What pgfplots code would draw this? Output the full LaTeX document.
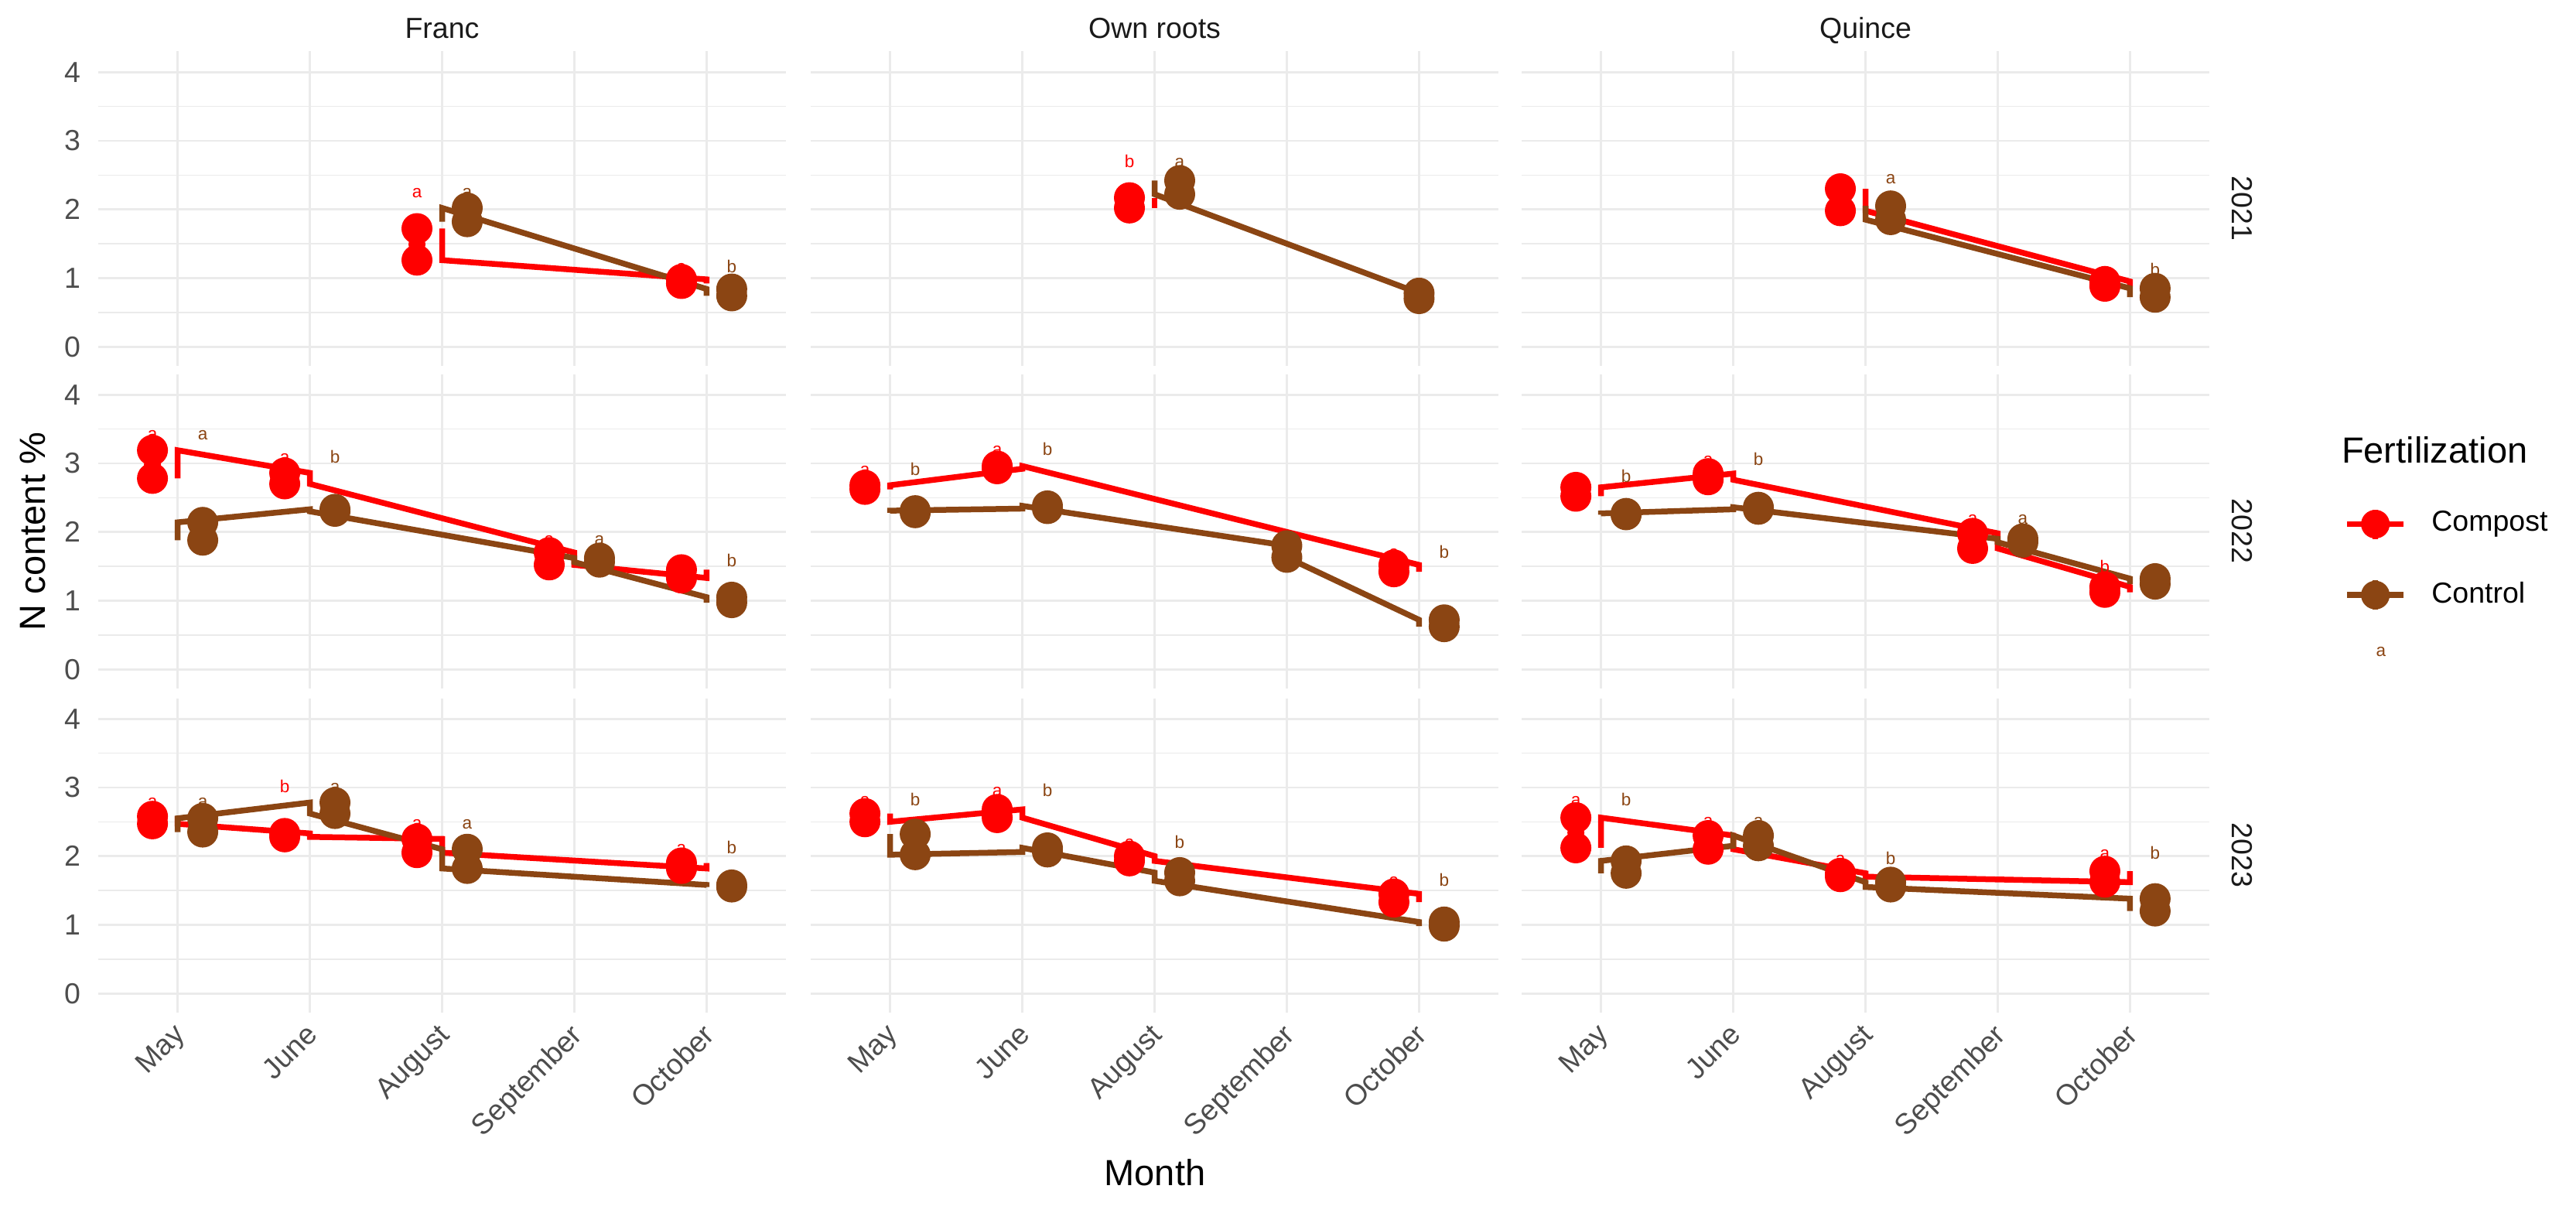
\documentclass[border=0pt]{standalone}
\usepackage{fontspec}
\setmainfont{Liberation Sans}
\usepackage{pgfplots}
\usepackage{pgfplotstable}
\pgfplotsset{compat=1.18}

\definecolor{compost}{HTML}{FF0000}
\definecolor{control}{HTML}{8B4513}
\definecolor{gridmaj}{HTML}{EBEBEB}
\definecolor{ticktxt}{HTML}{4D4D4D}
\definecolor{striptxt}{HTML}{1A1A1A}

% points / lines: m = month index, xd = dodged position
% err tables: xd, mean, error up, letter base, letter
% 2021 (A)
\pgfplotstableread{
m xd y
3 2.81 1.72
3 2.81 1.26
5 4.81 0.98
5 4.81 0.92
}\ptFrAc
\pgfplotstableread{
xd y e ly lab
2.81 1.49 0.40 2.16 a
4.81 0.95 0.12 1.06 a
}\erFrAc
\pgfplotstableread{
m xd y
3 3.19 1.82
3 3.19 2.02
5 5.19 0.84
5 5.19 0.74
}\ptFrAk
\pgfplotstableread{
xd y e ly lab
3.19 1.92 0.22 2.16 a
5.19 0.79 0.10 1.06 b
}\erFrAk
\pgfplotstableread{
m xd y
3 2.81 2.17
3 2.81 2.02
}\ptOwAc
\pgfplotstableread{
xd y e ly lab
2.81 2.10 0.25 2.60 b
}\erOwAc
\pgfplotstableread{
m xd y
3 3.19 2.42
3 3.19 2.22
5 5.00 0.78
5 5.00 0.70
}\ptOwAk
\pgfplotstableread{
xd y e ly lab
3.19 2.32 0.28 2.60 a
}\erOwAk
\pgfplotstableread{
m xd y
3 2.81 2.30
3 2.81 1.98
5 4.81 0.95
5 4.81 0.88
}\ptQuAc
\pgfplotstableread{
xd y e ly lab
2.81 2.14 0.22 2.36 a
4.81 0.92 0.10 1.02 a
}\erQuAc
\pgfplotstableread{
m xd y
3 3.19 2.05
3 3.19 1.85
5 5.19 0.85
5 5.19 0.72
}\ptQuAk
\pgfplotstableread{
xd y e ly lab
3.19 1.95 0.15 2.36 a
5.19 0.78 0.10 1.02 b
}\erQuAk
% 2022 (B)
\pgfplotstableread{
m xd y
1 0.81 2.78
1 0.81 3.19
2 1.81 2.86
2 1.81 2.70
4 3.81 1.70
4 3.81 1.52
5 4.81 1.33
5 4.81 1.45
}\ptFrBc
\pgfplotstableread{
xd y e ly lab
0.81 2.98 0.35 3.33 a
1.81 2.78 0.21 2.99 a
3.81 1.61 0.19 1.80 a
4.81 1.39 0.09 1.48 a
}\erFrBc
\pgfplotstableread{
m xd y
1 1.19 1.88
1 1.19 2.14
2 2.19 2.33
2 2.19 2.30
4 4.19 1.62
4 4.19 1.56
5 5.19 1.05
5 5.19 0.97
}\ptFrBk
\pgfplotstableread{
xd y e ly lab
1.19 2.01 0.15 3.33 a
2.19 2.31 0.05 2.99 b
4.19 1.59 0.08 1.80 a
5.19 1.01 0.06 1.48 b
}\erFrBk
\pgfplotstableread{
m xd y
1 0.81 2.62
1 0.81 2.68
2 1.81 2.92
2 1.81 2.96
5 4.81 1.52
5 4.81 1.42
}\ptOwBc
\pgfplotstableread{
xd y e ly lab
0.81 2.65 0.16 2.81 a
1.81 2.94 0.16 3.10 a
4.81 1.47 0.13 1.60 a
}\erOwBc
\pgfplotstableread{
m xd y
1 1.19 2.28
1 1.19 2.31
2 2.19 2.34
2 2.19 2.38
4 4.00 1.80
4 4.00 1.63
5 5.19 0.72
5 5.19 0.62
}\ptOwBk
\pgfplotstableread{
xd y e ly lab
1.19 2.30 0.03 2.81 b
2.19 2.36 0.03 3.10 b
5.19 0.67 0.05 1.60 b
}\erOwBk
\pgfplotstableread{
m xd y
1 0.81 2.52
1 0.81 2.65
2 1.81 2.85
2 1.81 2.76
4 3.81 1.98
4 3.81 1.76
5 4.81 1.20
5 4.81 1.12
}\ptQuBc
\pgfplotstableread{
xd y e ly lab
0.81 2.58 0.12 2.71 a
1.81 2.80 0.16 2.96 a
3.81 1.87 0.23 2.10 a
4.81 1.16 0.08 1.39 b
}\erQuBc
\pgfplotstableread{
m xd y
1 1.19 2.25
1 1.19 2.27
2 2.19 2.33
2 2.19 2.36
4 4.19 1.90
4 4.19 1.85
5 5.19 1.32
5 5.19 1.24
}\ptQuBk
\pgfplotstableread{
xd y e ly lab
1.19 2.26 0.03 2.71 b
2.19 2.35 0.03 2.96 b
4.19 1.88 0.05 2.10 a
5.19 1.28 0.11 1.39 a
}\erQuBk
% 2023 (C)
\pgfplotstableread{
m xd y
1 0.81 2.58
1 0.81 2.47
2 1.81 2.33
2 1.81 2.28
3 2.81 2.25
3 2.81 2.05
5 4.81 1.82
5 4.81 1.90
}\ptFrCc
\pgfplotstableread{
xd y e ly lab
0.81 2.52 0.18 2.70 a
1.81 2.31 0.05 2.91 b
2.81 2.15 0.23 2.38 a
4.81 1.86 0.16 2.02 a
}\erFrCc
\pgfplotstableread{
m xd y
1 1.19 2.35
1 1.19 2.55
2 2.19 2.78
2 2.19 2.62
3 3.19 2.10
3 3.19 1.82
5 5.19 1.58
5 5.19 1.55
}\ptFrCk
\pgfplotstableread{
xd y e ly lab
1.19 2.45 0.25 2.70 a
2.19 2.70 0.21 2.91 a
3.19 1.96 0.10 2.38 a
5.19 1.56 0.03 2.02 b
}\erFrCk
\pgfplotstableread{
m xd y
1 0.81 2.62
1 0.81 2.50
2 1.81 2.68
2 1.81 2.56
3 2.81 2.00
3 2.81 1.93
5 4.81 1.45
5 4.81 1.33
}\ptOwCc
\pgfplotstableread{
xd y e ly lab
0.81 2.56 0.16 2.72 a
1.81 2.62 0.24 2.86 a
2.81 1.97 0.13 2.10 a
4.81 1.39 0.16 1.55 a
}\erOwCc
\pgfplotstableread{
m xd y
1 1.19 2.32
1 1.19 2.02
2 2.19 2.06
2 2.19 2.12
3 3.19 1.76
3 3.19 1.64
5 5.19 1.04
5 5.19 0.98
}\ptOwCk
\pgfplotstableread{
xd y e ly lab
1.19 2.17 0.15 2.72 b
2.19 2.09 0.04 2.86 b
3.19 1.70 0.06 2.10 b
5.19 1.01 0.04 1.55 b
}\erOwCk
\pgfplotstableread{
m xd y
1 0.81 2.12
1 0.81 2.56
2 1.81 2.30
2 1.81 2.10
3 2.81 1.75
3 2.81 1.70
5 4.81 1.62
5 4.81 1.78
}\ptQuCc
\pgfplotstableread{
xd y e ly lab
0.81 2.34 0.38 2.72 a
1.81 2.20 0.22 2.42 a
2.81 1.72 0.14 1.86 a
4.81 1.70 0.24 1.94 a
}\erQuCc
\pgfplotstableread{
m xd y
1 1.19 1.75
1 1.19 1.93
2 2.19 2.15
2 2.19 2.30
3 3.19 1.62
3 3.19 1.55
5 5.19 1.38
5 5.19 1.20
}\ptQuCk
\pgfplotstableread{
xd y e ly lab
1.19 1.84 0.10 2.72 b
2.19 2.22 0.20 2.42 a
3.19 1.58 0.10 1.86 b
5.19 1.29 0.10 1.94 b
}\erQuCk

\newcommand{\tickfont}{\fontsize{7.5}{9}\selectfont}
\newcommand{\titlefont}{\fontsize{9.4}{11}\selectfont}
\newcommand{\letterfont}{\fontsize{4.5}{5}\selectfont}

\newcommand{\drawgroup}[3]{%
  \addplot[#1, line width=1.5pt, forget plot] table[x=m, y=y] {#2};
  \addplot[#1, only marks, mark=*, mark size=3.8pt, forget plot] table[x=xd, y=y] {#2};
  \addplot[#1, only marks, mark=none, forget plot,
    error bars/.cd, y dir=plus, y explicit,
    error bar style={line width=1.6pt, #1}, error mark=none]
    table[x=xd, y=y, y error=e] {#3};
  \addplot[#1, only marks, mark=none, forget plot, nodes near coords,
    point meta=explicit symbolic,
    nodes near coords style={anchor=south, inner sep=0pt, font=\letterfont, text=#1}]
    table[x=xd, y=ly, meta=lab] {#3};
}

\pgfplotsset{
  panel/.style={
    scale only axis, width=177.8pt, height=81.3pt, anchor=south west,
    xmin=0.4, xmax=5.6, ymin=-0.28, ymax=4.3,
    xtick={1,2,3,4,5}, ytick={0,1,2,3,4}, minor ytick={0.5,1.5,2.5,3.5},
    xmajorgrids, ymajorgrids, yminorgrids,
    major grid style={gridmaj, line width=0.55pt},
    minor grid style={gridmaj, line width=0.3pt},
    axis line style={draw=none}, major tick length=0pt, minor tick length=0pt,
    xticklabels={}, yticklabels={},
    yticklabel style={font=\tickfont, text=ticktxt, anchor=east, inner sep=0pt, xshift=-4.4pt},
    xticklabel style={font=\tickfont, text=ticktxt, xshift=-1.4pt, yshift=-2.2pt,
      rotate=45, anchor=north east, inner sep=0pt},
  },
}

\begin{document}
\begin{tikzpicture}
\path[use as bounding box] (0,0) rectangle (666pt,313.4pt);

% 2021
\begin{axis}[panel, at={(25.4pt,218.8pt)}, yticklabels={0,1,2,3,4}]
\drawgroup{compost}{\ptFrAc}{\erFrAc}
\drawgroup{control}{\ptFrAk}{\erFrAk}
\end{axis}
\begin{axis}[panel, at={(209.6pt,218.8pt)}]
\drawgroup{compost}{\ptOwAc}{\erOwAc}
\drawgroup{control}{\ptOwAk}{\erOwAk}
\end{axis}
\begin{axis}[panel, at={(393.4pt,218.8pt)}]
\drawgroup{compost}{\ptQuAc}{\erQuAc}
\drawgroup{control}{\ptQuAk}{\erQuAk}
\end{axis}

% 2022
\begin{axis}[panel, at={(25.4pt,135.4pt)}, yticklabels={0,1,2,3,4}]
\drawgroup{compost}{\ptFrBc}{\erFrBc}
\drawgroup{control}{\ptFrBk}{\erFrBk}
\end{axis}
\begin{axis}[panel, at={(209.6pt,135.4pt)}]
\drawgroup{compost}{\ptOwBc}{\erOwBc}
\drawgroup{control}{\ptOwBk}{\erOwBk}
\end{axis}
\begin{axis}[panel, at={(393.4pt,135.4pt)},
  legend style={at={(1.195,0.585)}, anchor=north west, draw=none, fill=none,
    inner sep=0pt, row sep=8.5pt, font=\tickfont, nodes={inner sep=1.5pt}},
  legend cell align=left]
\drawgroup{compost}{\ptQuBc}{\erQuBc}
\drawgroup{control}{\ptQuBk}{\erQuBk}
\addlegendimage{compost, legend image code/.code={
  \draw[line width=1.5pt] (0pt,0pt) -- (14.6pt,0pt);
  \draw[line width=1.5pt] (7.3pt,-3.8pt) -- (7.3pt,3.8pt);
  \fill (7.3pt,0pt) circle (3.5pt);}}
\addlegendentry{\hspace{5pt}Compost}
\addlegendimage{control, legend image code/.code={
  \draw[line width=1.5pt] (0pt,0pt) -- (14.6pt,0pt);
  \draw[line width=1.5pt] (7.3pt,-3.8pt) -- (7.3pt,3.8pt);
  \fill (7.3pt,0pt) circle (3.5pt);}}
\addlegendentry{\hspace{5pt}Control}
\addlegendimage{legend image code/.code={
  \node[text=control, font=\letterfont, inner sep=0pt] at (7.3pt,1.5pt) {a};}}
\addlegendentry{}
\end{axis}

% 2023
\begin{axis}[panel, at={(25.4pt,51.6pt)}, yticklabels={0,1,2,3,4},
  xticklabels={May,June,August,September,October}]
\drawgroup{compost}{\ptFrCc}{\erFrCc}
\drawgroup{control}{\ptFrCk}{\erFrCk}
\end{axis}
\begin{axis}[panel, at={(209.6pt,51.6pt)},
  xticklabels={May,June,August,September,October}]
\drawgroup{compost}{\ptOwCc}{\erOwCc}
\drawgroup{control}{\ptOwCk}{\erOwCk}
\end{axis}
\begin{axis}[panel, at={(393.4pt,51.6pt)},
  xticklabels={May,June,August,September,October}]
\drawgroup{compost}{\ptQuCc}{\erQuCc}
\drawgroup{control}{\ptQuCk}{\erQuCk}
\end{axis}

% strip labels on top
\node[anchor=base, font=\tickfont, text=striptxt] at (114.3pt,303.4pt) {Franc};
\node[anchor=base, font=\tickfont, text=striptxt] at (298.5pt,303.4pt) {Own roots};
\node[anchor=base, font=\tickfont, text=striptxt] at (482.3pt,303.4pt) {Quince};
% strip labels on the right
\node[rotate=-90, font=\tickfont, text=striptxt] at (579.6pt,259.5pt) {2021};
\node[rotate=-90, font=\tickfont, text=striptxt] at (579.6pt,176.1pt) {2022};
\node[rotate=-90, font=\tickfont, text=striptxt] at (579.6pt,92.3pt) {2023};

% axis titles
\node[rotate=90, font=\titlefont] at (8.4pt,176pt) {N content \%};
\node[font=\titlefont] at (298.6pt,10.2pt) {Month};
\node[font=\titlefont, anchor=west, inner sep=0pt] at (605.2pt,197pt) {Fertilization};
\end{tikzpicture}
\end{document}
